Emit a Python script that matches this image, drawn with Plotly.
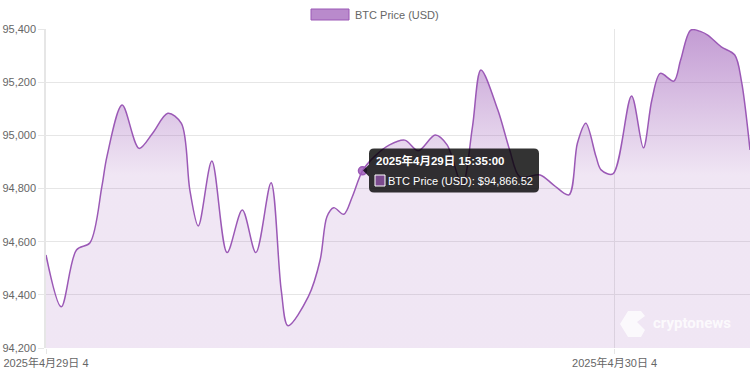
import plotly.graph_objects as go

# ---- data ----
times = [
    "2025-04-29 00:00", "2025-04-29 00:45", "2025-04-29 01:30", "2025-04-29 02:10",
    "2025-04-29 02:45", "2025-04-29 03:00", "2025-04-29 03:45", "2025-04-29 04:35",
    "2025-04-29 05:15", "2025-04-29 06:00", "2025-04-29 06:40", "2025-04-29 07:05",
    "2025-04-29 07:30", "2025-04-29 08:10", "2025-04-29 08:55", "2025-04-29 09:40",
    "2025-04-29 10:20", "2025-04-29 11:05", "2025-04-29 11:35", "2025-04-29 11:55",
    "2025-04-29 12:55", "2025-04-29 13:30", "2025-04-29 13:50", "2025-04-29 14:10",
    "2025-04-29 14:40", "2025-04-29 15:05", "2025-04-29 15:35", "2025-04-29 16:10",
    "2025-04-29 16:55", "2025-04-29 17:40", "2025-04-29 18:20", "2025-04-29 19:10",
    "2025-04-29 19:45", "2025-04-29 20:30", "2025-04-29 21:00", "2025-04-29 21:25",
    "2025-04-29 22:15", "2025-04-29 22:50", "2025-04-29 23:20", "2025-04-30 00:20",
    "2025-04-30 01:00", "2025-04-30 01:45", "2025-04-30 02:10", "2025-04-30 02:35",
    "2025-04-30 03:05", "2025-04-30 03:20", "2025-04-30 03:55", "2025-04-30 04:50",
    "2025-04-30 05:25", "2025-04-30 05:50", "2025-04-30 06:15", "2025-04-30 06:55",
    "2025-04-30 07:15", "2025-04-30 07:45", "2025-04-30 08:15", "2025-04-30 08:35",
    "2025-04-30 09:15", "2025-04-30 09:55", "2025-04-30 10:15", "2025-04-30 10:40",
]
prices = [
    94550, 94355, 94569, 94596,
    94807, 94920, 95114, 94951,
    95008, 95083, 95045, 94794,
    94659, 94903, 94559, 94719,
    94559, 94822, 94418, 94284,
    94393, 94531, 94694, 94728,
    94703, 94769, 94866.52, 94920,
    94964, 94982, 94942, 95001,
    94964, 94813, 95032, 95246,
    95095, 94945, 94844, 94851,
    94813, 94776, 94970, 95045,
    94920, 94870, 94855, 95148,
    94953, 95133, 95233, 95204,
    95283, 95396, 95390, 95377,
    95333, 95302, 95202, 94945,
]
series_name = "BTC Price (USD)"
y_ticks = [94200, 94400, 94600, 94800, 95000, 95200, 95400]
x_tick_vals = ["2025-04-29 00:00", "2025-04-30 04:00"]
x_tick_text = ["2025年4月29日 4", "2025年4月30日 4"]
hover_index = 26
tooltip_title = "2025年4月29日 15:35:00"
tooltip_body = "BTC Price (USD): $94,866.52"
watermark = "cryptonews"

PURPLE = "#9b59b6"
FONT = "Liberation Sans, Arial, Noto Sans CJK SC, sans-serif"
FS = 11

# layout geometry (pixels)
W, H = 750, 374
L, R, T, B = 46, 0, 29, 26
PW, PH = W - L - R, H - T - B


def px(x):
    return (x - L) / PW


def py(y):
    return (H - B - y) / PH


fig = go.Figure()
fig.add_trace(go.Scatter(
    x=times, y=prices, mode="lines", name=series_name,
    line=dict(color=PURPLE, width=1.5, shape="spline", smoothing=0.9),
    fill="tozeroy",
    fillgradient=dict(type="vertical",
                      colorscale=[[0, "rgba(155,89,182,0.15)"],
                                  [1, "rgba(155,89,182,0.6)"]],
                      start=94850, stop=95400),
    hoverinfo="skip", showlegend=False, cliponaxis=True,
))
fig.add_trace(go.Scatter(
    x=[times[hover_index]], y=[prices[hover_index]], mode="markers",
    marker=dict(size=8, color="rgba(155,89,182,0.8)", line=dict(color=PURPLE, width=1.5)),
    hoverinfo="skip", showlegend=False,
))

shapes = []
annotations = []

# legend swatch + text
shapes.append(dict(type="rect", xref="paper", yref="paper",
                   x0=px(311), x1=px(349), y0=py(20), y1=py(9),
                   fillcolor="rgba(155,89,182,0.7)", line=dict(color=PURPLE, width=1)))
annotations.append(dict(xref="paper", yref="paper", x=px(353), y=py(14.5),
                        xanchor="left", yanchor="middle", showarrow=False,
                        text=series_name, font=dict(family=FONT, size=FS, color="#666")))

# tooltip box (rounded rect) + caret
x0, x1, y0, y1, r = 369, 539, 148.5, 192.5, 5
path = (f"M {px(x0+r)},{py(y0)} L {px(x1-r)},{py(y0)} Q {px(x1)},{py(y0)} {px(x1)},{py(y0+r)} "
        f"L {px(x1)},{py(y1-r)} Q {px(x1)},{py(y1)} {px(x1-r)},{py(y1)} "
        f"L {px(x0+r)},{py(y1)} Q {px(x0)},{py(y1)} {px(x0)},{py(y1-r)} "
        f"L {px(x0)},{py(176.5)} L {px(363)},{py(170.5)} L {px(x0)},{py(164.5)} "
        f"L {px(x0)},{py(y0+r)} Q {px(x0)},{py(y0)} {px(x0+r)},{py(y0)} Z")
shapes.append(dict(type="path", xref="paper", yref="paper", path=path,
                   fillcolor="rgba(0,0,0,0.8)", line=dict(width=0)))
shapes.append(dict(type="rect", xref="paper", yref="paper",
                   x0=px(375), x1=px(385), y0=py(186), y1=py(175),
                   fillcolor="rgba(155,89,182,0.7)", line=dict(color="white", width=1)))
annotations.append(dict(xref="paper", yref="paper", x=px(374), y=py(160),
                        xanchor="left", yanchor="middle", showarrow=False,
                        text=f"<b>{tooltip_title}</b>",
                        font=dict(family=FONT, size=FS + 0.5, color="white")))
annotations.append(dict(xref="paper", yref="paper", x=px(386), y=py(180.5),
                        xanchor="left", yanchor="middle", showarrow=False,
                        text=tooltip_body,
                        font=dict(family=FONT, size=FS, color="white")))

# watermark
logo = (f"M {px(628)},{py(311)} L {px(641)},{py(311)} L {px(645)},{py(316)} L {px(637)},{py(322)} "
        f"L {px(645)},{py(330)} L {px(641)},{py(337)} L {px(628)},{py(337)} L {px(620)},{py(324)} Z")
shapes.append(dict(type="path", xref="paper", yref="paper", path=logo,
                   fillcolor="rgba(255,255,255,0.75)", line=dict(width=0)))
annotations.append(dict(xref="paper", yref="paper", x=px(651), y=py(323),
                        xanchor="left", yanchor="middle", showarrow=False,
                        text=f"<b>{watermark}</b>",
                        font=dict(family="Roboto, Liberation Sans, sans-serif", size=15,
                                  color="rgba(255,255,255,0.8)")))

fig.update_layout(
    width=W, height=H,
    margin=dict(l=L, r=R, t=T, b=B, autoexpand=False),
    paper_bgcolor="white", plot_bgcolor="white",
    font=dict(family=FONT, size=FS, color="#666"),
    shapes=shapes, annotations=annotations,
    showlegend=False,
    xaxis=dict(type="date", range=[times[0], times[-1]], automargin=False,
               tickvals=x_tick_vals, ticktext=x_tick_text, ticklabeloverflow="allow",
               showgrid=True, gridcolor="#e6e6e6", gridwidth=1,
               showline=False, zeroline=False, ticks="outside", ticklen=5,
               tickcolor="#e6e6e6", tickfont=dict(size=FS, color="#666")),
    yaxis=dict(range=[94200, 95400], tickvals=y_ticks, automargin=False,
               ticklabeloverflow="allow",
               tickformat=",d", showgrid=True, gridcolor="#e6e6e6", gridwidth=1,
               showline=True, linecolor="#e6e6e6", linewidth=1.5, zeroline=False,
               ticks="outside", ticklen=6, tickcolor="#e6e6e6",
               tickfont=dict(size=FS, color="#666")),
)

fig.write_html("out.html", config={"displayModeBar": False},
               post_script="document.body.style.margin='0';document.body.style.overflow='hidden';")
